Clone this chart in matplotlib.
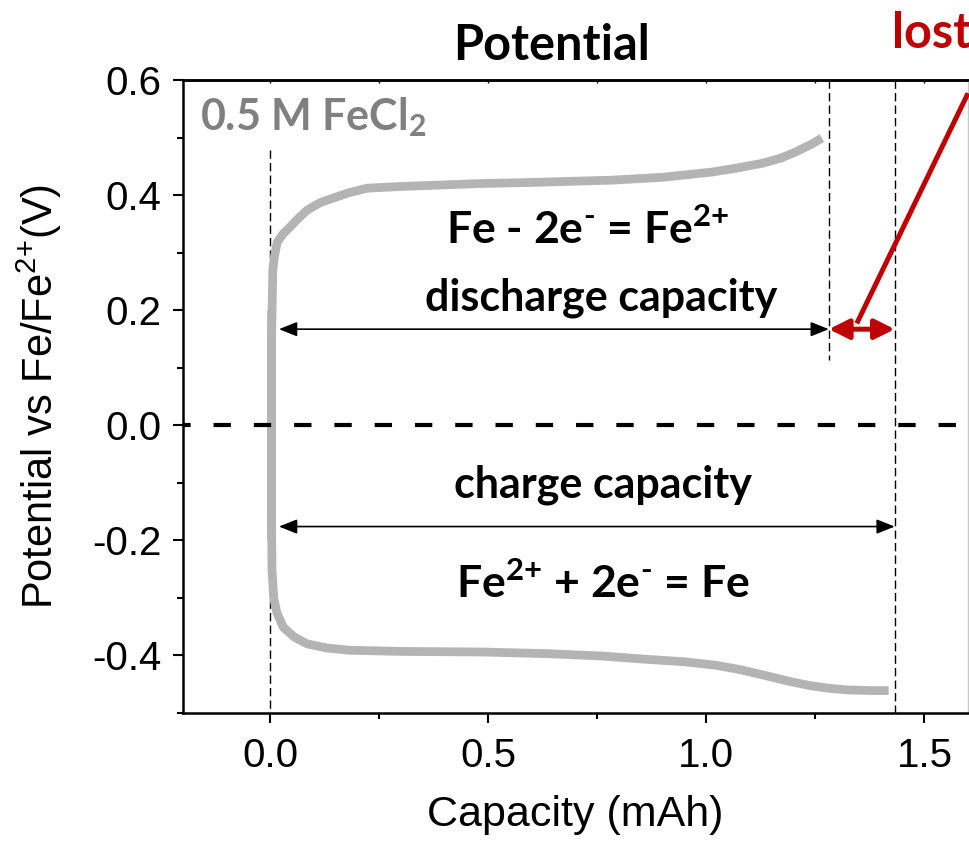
"""Fe plating/stripping potential profile, 0.5 M FeCl2
"""
import numpy as np
import matplotlib
matplotlib.use("Agg")
import matplotlib.pyplot as plt

plt.rcParams["font.family"] = ["Liberation Sans", "DejaVu Sans"]
plt.rcParams["mathtext.fontset"] = "custom"
plt.rcParams["mathtext.rm"] = "Lato:bold"
plt.rcParams["mathtext.bf"] = "Lato:bold"
plt.rcParams["mathtext.sf"] = "Liberation Sans"
plt.rcParams["lines.scale_dashes"] = False

# discharge (Fe -> Fe2+), upper branch
dis_cap = [0.003, 0.003, 0.006, 0.010, 0.016, 0.030, 0.046, 0.065, 0.085, 0.115,
           0.145, 0.180, 0.222, 0.300, 0.373, 0.480, 0.600, 0.785, 0.900, 1.013,
           1.070, 1.127, 1.170, 1.205, 1.240, 1.265]
dis_pot = [-0.20, 0.150, 0.270, 0.295, 0.318, 0.333, 0.345, 0.360, 0.374, 0.387,
           0.395, 0.404, 0.412, 0.415, 0.417, 0.420, 0.422, 0.426, 0.431, 0.440,
           0.447, 0.455, 0.464, 0.475, 0.488, 0.499]

# charge (Fe2+ -> Fe), lower branch
chg_cap = [0.003, 0.003, 0.004, 0.008, 0.015, 0.030, 0.055, 0.085, 0.130, 0.183,
           0.300, 0.487, 0.640, 0.760, 0.869, 0.950, 1.022, 1.080, 1.136, 1.190,
           1.235, 1.280, 1.326, 1.380, 1.418]
chg_pot = [0.20, -0.150, -0.250, -0.300, -0.325, -0.351, -0.368, -0.380, -0.387, -0.391,
           -0.393, -0.394, -0.397, -0.401, -0.407, -0.411, -0.417, -0.425, -0.435, -0.445,
           -0.452, -0.457, -0.460, -0.461, -0.461]

dis_end = 1.281   # discharge capacity marker
chg_end = 1.432   # charge capacity marker
arrow_start = 0.02
dis_arrow_y = 0.167
chg_arrow_y = -0.176

GRAY = "#b4b4b4"
RED = "#c00000"
BOLD = dict(family=["Lato", "DejaVu Sans"], fontweight="bold")

fig = plt.figure(figsize=(9.69, 8.49), dpi=100)
ax = fig.add_axes([183 / 969, 136 / 849, 785 / 969, 633 / 849])

ax.plot(dis_cap, dis_pot, color=GRAY, lw=6.3, solid_capstyle="butt", zorder=3)
ax.plot(chg_cap, chg_pot, color=GRAY, lw=6.3, solid_capstyle="butt", zorder=3)

ax.axhline(0, color="black", lw=3, linestyle=(7, (12.5, 16.5)), zorder=4)

VLINE_KW = dict(color="black", lw=1.0, linestyle=(0, (6, 3)), zorder=2)
ax.plot([0, 0], [0.478, -0.5], **VLINE_KW)
ax.plot([dis_end, dis_end], [0.6, 0.113], **VLINE_KW)
ax.plot([chg_end, chg_end], [0.6, -0.5], **VLINE_KW)

ARROW_KW = dict(arrowstyle="<|-|>,head_length=0.55,head_width=0.22",
                color="black", lw=1.2, shrinkA=0, shrinkB=0, mutation_scale=20)
ax.annotate("", xy=(arrow_start, dis_arrow_y), xytext=(dis_end, dis_arrow_y),
            arrowprops=ARROW_KW)
ax.annotate("", xy=(arrow_start, chg_arrow_y), xytext=(chg_end, chg_arrow_y),
            arrowprops=ARROW_KW)

# lost capacity
ax.annotate("", xy=(dis_end, dis_arrow_y), xytext=(chg_end, dis_arrow_y),
            arrowprops=dict(arrowstyle="<|-|>,head_length=0.6,head_width=0.3",
                            color=RED, lw=3.6, shrinkA=0, shrinkB=0,
                            mutation_scale=20), zorder=5)
ax.plot([1.345, 1.60], [0.177, 0.577], color=RED, lw=3.6, clip_on=False,
        solid_capstyle="butt", zorder=5)
ax.text(1.425, 0.656, "lost", color=RED, fontsize=35, ha="left",
        va="baseline", clip_on=False, **BOLD)

ax.text(-0.160, 0.513, r"0.5 M FeCl$_{2}$", color="#808080",
        fontsize=31, ha="left", va="baseline", **BOLD)
ax.text(0.727, 0.315, r"Fe - 2e$^{\text{-}}$ = Fe$^{2{+}}$",
        fontsize=32, ha="center", va="baseline", **BOLD)
ax.text(0.759, 0.200, "discharge capacity", fontsize=31, ha="center",
        va="baseline", **BOLD)
ax.text(0.764, -0.125, "charge capacity", fontsize=31, ha="center",
        va="baseline", **BOLD)
ax.text(0.764, -0.301, r"Fe$^{2{+}}$ + 2e$^{\text{-}}$ = Fe",
        fontsize=32, ha="center", va="baseline", **BOLD)
ax.text(0.645, 0.635, "Potential", fontsize=35, ha="center", va="baseline",
        clip_on=False, **BOLD)

ax.set_xlim(-0.2, 1.6)
ax.set_ylim(-0.5, 0.6)
ax.xaxis.set(major_locator=plt.MultipleLocator(0.5),
             minor_locator=plt.MultipleLocator(0.25))
ax.yaxis.set(major_locator=plt.MultipleLocator(0.2),
             minor_locator=plt.MultipleLocator(0.1))
ax.xaxis.set_major_formatter(plt.FormatStrFormatter("%.1f"))
ax.yaxis.set_major_formatter(plt.FormatStrFormatter("%.1f"))

ax.tick_params(which="major", direction="out", length=7.5, width=1.5,
               labelsize=29, pad=8, top=False, right=False)
ax.tick_params(which="minor", direction="out", length=4.5, width=1.5,
               top=False, right=False)
ax.tick_params(axis="x", which="major", pad=10)

top = ax.secondary_xaxis("top")
top.xaxis.set(major_locator=plt.MultipleLocator(0.25))
top.tick_params(direction="in", length=2.5, width=1, labeltop=False)

for side in ["left", "bottom", "top"]:
    ax.spines[side].set_linewidth(1.8)
top.spines["top"].set_linewidth(1.8)
ax.spines["right"].set_color("#c8c8c8")
ax.spines["right"].set_linewidth(1.0)

ax.set_xlabel("Capacity (mAh)", fontsize=31, labelpad=14)
ax.set_ylabel(r"Potential vs Fe/Fe$^{\mathsf{2{+}}}$(V)", fontsize=30,
              labelpad=20)

plt.savefig("out.png", dpi=100)
plt.close()
